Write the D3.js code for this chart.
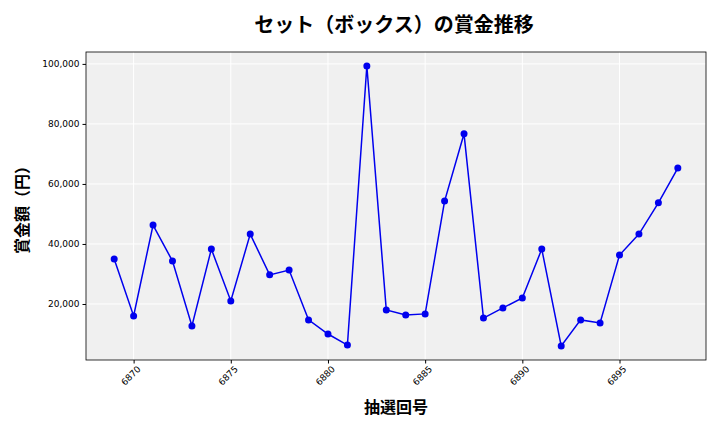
<!DOCTYPE html>
<html><head><meta charset="utf-8">
<script src="https://cdn.jsdelivr.net/npm/d3@7"></script>
<style>body{margin:0;background:#fff;font-family:"Noto Sans CJK JP","DejaVu Sans",sans-serif}</style>
</head><body><svg id="c" width="720" height="432"></svg>
<script>
const draws = d3.range(6869, 6899);
const prizes = [35000,16000,46300,34300,12700,38300,21000,43300,29700,31300,14700,10000,6300,99300,18000,16300,16700,54300,76700,15300,18700,22000,38300,6000,14700,13700,36300,43300,53700,65300];
const xTicks = [6870,6875,6880,6885,6890,6895];
const yTicks = [20000,40000,60000,80000,100000];

const svg = d3.select('#c');
const L = 86, R = 706, T = 52, B = 360;
const x = d3.scaleLinear().domain([6867.55, 6899.45]).range([L, R]);
const y = d3.scaleLinear().domain([1335, 103965]).range([B, T]);

svg.append('rect').attr('x', L).attr('y', T).attr('width', R-L).attr('height', B-T).attr('fill', '#f0f0f0');
svg.append('g').selectAll('line').data(xTicks).enter().append('line')
  .attr('x1', d=>x(d)).attr('x2', d=>x(d)).attr('y1', T).attr('y2', B).attr('stroke', '#fff').attr('stroke-width', 1);
svg.append('g').selectAll('line').data(yTicks).enter().append('line')
  .attr('y1', d=>y(d)).attr('y2', d=>y(d)).attr('x1', L).attr('x2', R).attr('stroke', '#fff').attr('stroke-width', 1);
svg.append('rect').attr('x', L).attr('y', T).attr('width', R-L).attr('height', B-T).attr('fill', 'none').attr('stroke', '#000').attr('stroke-width', 0.8);

const xa = svg.append('g').attr('transform', `translate(0,${B})`)
  .call(d3.axisBottom(x).tickValues(xTicks).tickFormat(d3.format('d')).tickSizeOuter(0).tickSize(3.5));
xa.select('.domain').remove();
xa.selectAll('text').attr('font-size', 9).attr('font-family', 'DejaVu Sans')
  .attr('transform', 'rotate(-45)').attr('text-anchor', 'end').attr('dx', '-0.2em').attr('dy', '0.6em');
const ya = svg.append('g').attr('transform', `translate(${L},0)`)
  .call(d3.axisLeft(y).tickValues(yTicks).tickFormat(d3.format(',')).tickSizeOuter(0).tickSize(3.5));
ya.select('.domain').remove();
ya.selectAll('text').attr('font-size', 9).attr('font-family', 'DejaVu Sans');

const line = d3.line().x((d,i)=>x(draws[i])).y(d=>y(d));
svg.append('path').datum(prizes).attr('d', line).attr('fill', 'none').attr('stroke', '#0000ee').attr('stroke-width', 1.5);
svg.append('g').selectAll('circle').data(prizes).enter().append('circle')
  .attr('cx', (d,i)=>x(draws[i])).attr('cy', d=>y(d)).attr('r', 3.5).attr('fill', '#0000ee');

svg.append('text').attr('x', 394).attr('y', 32).attr('text-anchor', 'middle').attr('font-size', 20).attr('font-weight', 'bold').text('セット（ボックス）の賞金推移');
svg.append('text').attr('x', 396).attr('y', 413).attr('text-anchor', 'middle').attr('font-size', 16).attr('font-weight', 'bold').text('抽選回号');
svg.append('text').attr('transform', 'translate(28,206) rotate(-90)').attr('text-anchor', 'middle').attr('font-size', 16).attr('font-weight', 'bold').text('賞金額（円）');
</script></body></html>
